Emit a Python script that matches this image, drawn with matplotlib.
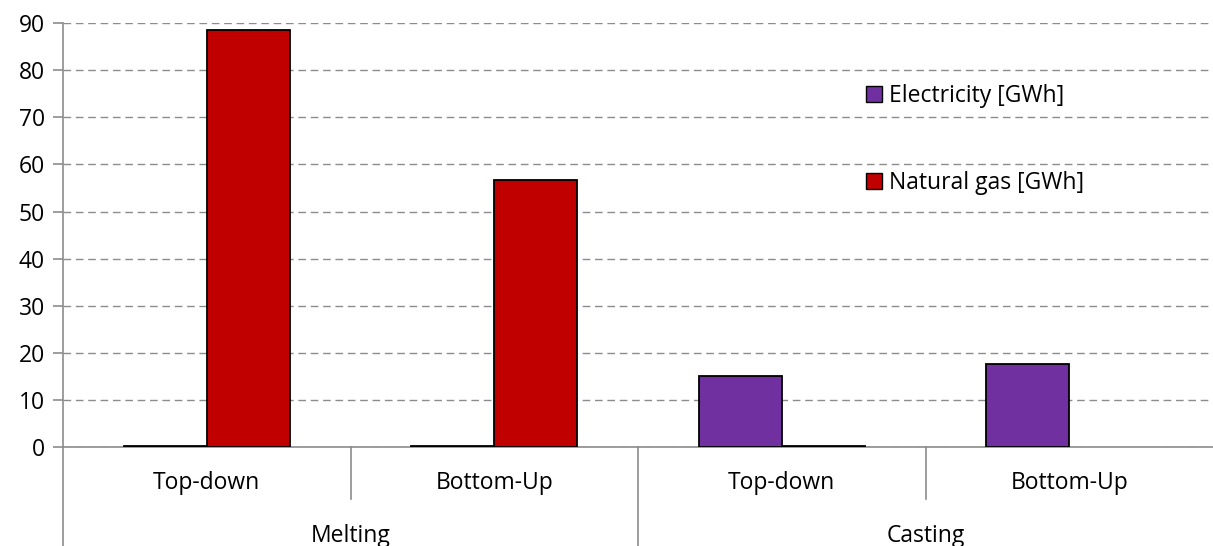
import numpy as np
import matplotlib.pyplot as plt
from matplotlib.patches import Patch

plt.rcParams['font.family'] = ['Open Sans', 'DejaVu Sans']

sub_labels = ["Top-down", "Bottom-Up", "Top-down", "Bottom-Up"]
group_labels = ["Melting", "Casting"]
electricity = [0.2, 0.2, 15.1, 17.7]
natural_gas = [88.6, 56.7, 0.3, 0.0]

fig = plt.figure(figsize=(12.13, 5.46), dpi=100)
ax = fig.add_axes([63/1213, (546-447.3)/546, (1213-63)/1213, (447.3-23)/546])

x = np.arange(len(sub_labels))
w = 0.289
# empty bars get no outline
edge_el = ["black" if v > 0 else "none" for v in electricity]
edge_ng = ["black" if v > 0 else "none" for v in natural_gas]
ax.bar(x - w/2, electricity, w, color="#7030A0", edgecolor=edge_el, linewidth=1.3, zorder=3)
ax.bar(x + w/2, natural_gas, w, color="#C00000", edgecolor=edge_ng, linewidth=1.3, zorder=3)

ax.set_xlim(-0.5, 3.5)
ax.set_ylim(0, 90)
ax.set_yticks(range(0, 91, 10))
ax.yaxis.grid(True, linestyle=(0, (5.5, 3.4)), color="#8c8c8c", linewidth=1.0, zorder=0)
ax.set_axisbelow(True)
for s in ["top", "right"]:
    ax.spines[s].set_visible(False)
ax.spines["left"].set_color("#8c8c8c")
ax.spines["bottom"].set_color("#8c8c8c")
ax.spines["left"].set_linewidth(1.2)
ax.spines["bottom"].set_linewidth(1.2)
ax.tick_params(axis="y", length=7, width=1.2, color="#8c8c8c", labelsize=16.5, pad=6)
ax.set_xticks([])

# two-level category axis drawn below the plot
trans = ax.get_xaxis_transform()
for b in [0.5, 2.5]:
    ax.plot([b, b], [0, -0.122], transform=trans, color="#8c8c8c", lw=1.2, clip_on=False)
for b in [-0.5, 1.5]:
    ax.plot([b, b], [0, -0.26], transform=trans, color="#8c8c8c", lw=1.2, clip_on=False)
for xi, lab in zip(x, sub_labels):
    ax.text(xi, -0.085, lab, transform=trans, ha="center", va="center", fontsize=16.5)
for gi, lab in enumerate(group_labels):
    ax.text(2*gi + 0.5, -0.208, lab, transform=trans, ha="center", va="center", fontsize=16.5)

handles = [Patch(facecolor="#7030A0", edgecolor="black"),
           Patch(facecolor="#C00000", edgecolor="black")]
ax.legend(handles, ["Electricity [GWh]", "Natural gas [GWh]"], loc="upper left",
          bbox_to_anchor=(0.68, 0.905), frameon=False, fontsize=16.5,
          handlelength=0.7, handleheight=0.7, handletextpad=0.3, labelspacing=2.75)

fig.savefig("out.png", dpi=100)
